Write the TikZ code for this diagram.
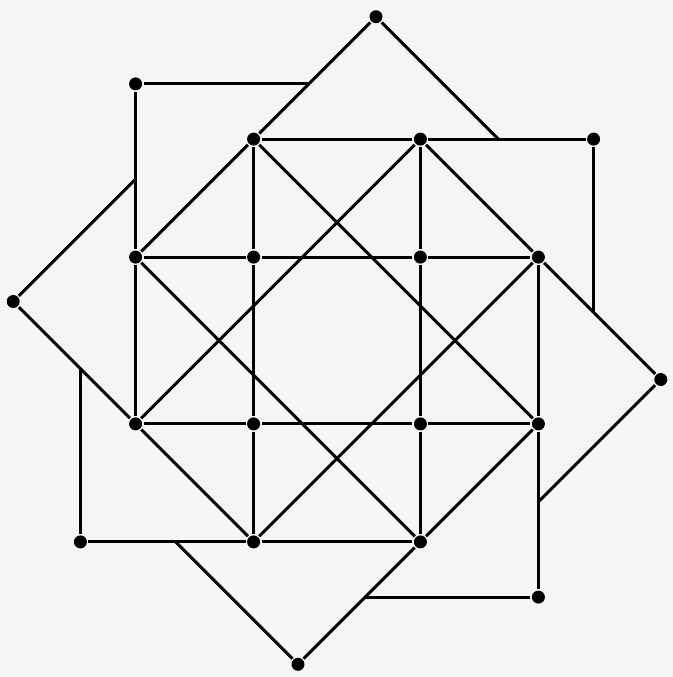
\documentclass[tikz,border=0pt]{standalone}
\usepackage{tikz}
\usepackage{color}
\definecolor{paper}{RGB}{245,245,245}
\tikzset{dot/.style={circle,fill=black,draw=none,inner sep=0pt,minimum size=0.26cm}}

\begin{document}
\begin{tikzpicture}[x=0.02cm,y=-0.02cm,line width=1.7pt]
\fill[paper] (0,0) rectangle (673,677);
\useasboundingbox (0,0) rectangle (673,677);
% inner grid
\node[dot] (g12) at (253.6,139.1) {};
\node[dot] (g13) at (420.4,139.1) {};
\node[dot] (g21) at (135.6,257.1) {};
\node[dot] (g22) at (253.6,257.1) {};
\node[dot] (g23) at (420.4,257.1) {};
\node[dot] (g24) at (538.4,257.1) {};
\node[dot] (g31) at (135.6,423.9) {};
\node[dot] (g32) at (253.6,423.9) {};
\node[dot] (g33) at (420.4,423.9) {};
\node[dot] (g34) at (538.4,423.9) {};
\node[dot] (g42) at (253.6,541.9) {};
\node[dot] (g43) at (420.4,541.9) {};
% outer corners
\node[dot] (top) at (376,16.7) {};
\node[dot] (right) at (660.8,379.5) {};
\node[dot] (bottom) at (298,664.3) {};
\node[dot] (left) at (13.2,301.5) {};
\node[dot] (nw) at (135.6,83.9) {};
\node[dot] (ne) at (593.6,139.1) {};
\node[dot] (se) at (538.4,597.1) {};
\node[dot] (sw) at (80.4,541.9) {};
% where the short edges stop
\coordinate (nwcut) at (308.8,83.9);
\coordinate (necut) at (593.6,312.3);
\coordinate (secut) at (365.2,597.1);
\coordinate (swcut) at (80.4,368.7);
\coordinate (topcut) at (498.4,139.1);
\coordinate (rightcut) at (538.4,501.9);
\coordinate (bottomcut) at (175.6,541.9);
\coordinate (leftcut) at (135.6,179.1);

\draw (nwcut) -- (nw) -- (g21) -- (g31);
\draw (necut) -- (ne) -- (g13) -- (g12);
\draw (secut) -- (se) -- (g34) -- (g24);
\draw (swcut) -- (sw) -- (g42) -- (g43);
\draw (topcut) -- (top) -- (g12) -- (g21);
\draw (rightcut) -- (right) -- (g24) -- (g13);
\draw (bottomcut) -- (bottom) -- (g43) -- (g34);
\draw (leftcut) -- (left) -- (g31) -- (g42);

\draw (g12) -- (g22) -- (g32) -- (g42);
\draw (g13) -- (g23) -- (g33) -- (g43);
\draw (g21) -- (g22) -- (g23) -- (g24);
\draw (g31) -- (g32) -- (g33) -- (g34);

\draw (g12) -- (g34) (g13) -- (g31);
\draw (g21) -- (g43) (g42) -- (g24);
\end{tikzpicture}
\end{document}
